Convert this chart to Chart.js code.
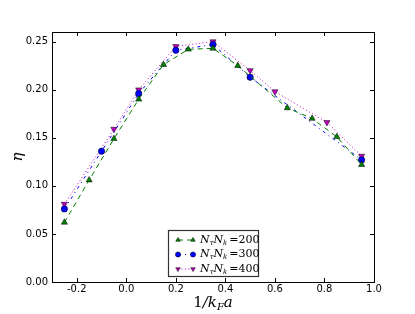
<!DOCTYPE html>
<html>
<head>
<meta charset="utf-8">
<script src="https://cdn.jsdelivr.net/npm/chart.js@4"></script>
<style>
  html, body { margin: 0; padding: 0; background: #fff; }
  #wrap { width: 415px; height: 314px; }
</style>
</head>
<body>
<div id="wrap"><canvas id="c" width="415" height="314"></canvas></div>
<script>
// ── DATA ──────────────────────────────────────────────────────────────
var x200 = [-0.25, -0.15, -0.05, 0.05, 0.15, 0.25, 0.35, 0.45, 0.65, 0.75, 0.85, 0.95];
var y200 = [0.062, 0.106, 0.149, 0.190, 0.226, 0.242, 0.243, 0.225, 0.181, 0.170, 0.151, 0.122];

var x300 = [-0.25, -0.10, 0.05, 0.20, 0.35, 0.50, 0.95];
var y300 = [0.076, 0.136, 0.196, 0.241, 0.247, 0.213, 0.127];

var x400 = [-0.25, -0.05, 0.05, 0.20, 0.35, 0.50, 0.60, 0.81, 0.95];
var y400 = [0.081, 0.159, 0.200, 0.245, 0.250, 0.220, 0.198, 0.166, 0.131];

var seriesLabels = ['200', '300', '400'];
var xTicks = [-0.2, 0.0, 0.2, 0.4, 0.6, 0.8, 1.0];
var yTicks = [0.00, 0.05, 0.10, 0.15, 0.20, 0.25];

function puntos(xs, ys) {
  return xs.map(function(x, i) { return { x: x, y: ys[i] }; });
}

// ── PLUGIN: marco, ticks internos, leyenda y títulos ─────────────────
var decoraciones = {
  id: 'decoraciones',
  afterDraw: function(chart) {
    var ctx = chart.ctx, a = chart.chartArea;
    var sx = chart.scales.x, sy = chart.scales.y;
    ctx.save();

    // ticks hacia dentro en los cuatro lados
    ctx.strokeStyle = '#000';
    ctx.lineWidth = 1;
    ctx.beginPath();
    xTicks.forEach(function(v) {
      var px = Math.round(sx.getPixelForValue(v)) + 0.5;
      ctx.moveTo(px, a.bottom); ctx.lineTo(px, a.bottom - 4);
      ctx.moveTo(px, a.top);    ctx.lineTo(px, a.top + 4);
    });
    yTicks.forEach(function(v) {
      var py = Math.round(sy.getPixelForValue(v)) + 0.5;
      ctx.moveTo(a.left, py);  ctx.lineTo(a.left + 4, py);
      ctx.moveTo(a.right, py); ctx.lineTo(a.right - 4, py);
    });
    ctx.stroke();

    // marco
    ctx.strokeRect(Math.round(a.left) + 0.5, Math.round(a.top) + 0.5,
                   Math.round(a.right - a.left), Math.round(a.bottom - a.top));

    // leyenda
    var lx = 168, ly = 230, lw = 90, lh = 46;
    ctx.fillStyle = '#fff';
    ctx.fillRect(lx, ly, lw, lh);
    ctx.strokeStyle = '#333';
    ctx.lineWidth = 1.2;
    ctx.strokeRect(lx + 0.5, ly + 0.5, lw, lh);

    chart.data.datasets.forEach(function(ds, i) {
      var yy = ly + 10 + i * 14.5;
      var x0 = lx + 10, x1 = lx + 25;
      ctx.strokeStyle = ds.borderColor;
      ctx.lineWidth = 1;
      ctx.setLineDash(ds.borderDash);
      ctx.beginPath(); ctx.moveTo(x0, yy); ctx.lineTo(x1, yy); ctx.stroke();
      ctx.setLineDash([]);
      [x0, x1].forEach(function(px) {
        ctx.fillStyle = ds.pointBackgroundColor;
        ctx.strokeStyle = '#000';
        ctx.lineWidth = 0.5;
        Chart.helpers.drawPoint(ctx, {
          pointStyle: ds.pointStyle, rotation: ds.pointRotation || 0,
          radius: 2.6, borderWidth: 0.5
        }, px, yy);
      });

      // texto N_τ N_k = valor
      var tx = lx + 32;
      ctx.fillStyle = '#000';
      ctx.textBaseline = 'middle';
      ctx.textAlign = 'left';
      ctx.font = 'italic 11px "DejaVu Serif"';
      ctx.fillText('N', tx, yy); tx += ctx.measureText('N').width;
      ctx.font = 'italic 7px "DejaVu Serif"';
      ctx.fillText('τ', tx, yy + 3); tx += ctx.measureText('τ').width;
      ctx.font = 'italic 11px "DejaVu Serif"';
      ctx.fillText('N', tx, yy); tx += ctx.measureText('N').width;
      ctx.font = 'italic 7px "DejaVu Serif"';
      ctx.fillText('k', tx, yy + 3); tx += ctx.measureText('k').width + 2;
      ctx.font = '11px "DejaVu Serif"';
      ctx.fillText('=' + seriesLabels[i], tx, yy);
    });

    // título eje x: 1/k_F a
    ctx.fillStyle = '#000';
    ctx.textBaseline = 'alphabetic';
    ctx.textAlign = 'left';
    var partes = [
      ['15px "DejaVu Serif"', '1', 0],
      ['italic 15px "DejaVu Serif"', '/k', 0],
      ['italic 10px "DejaVu Serif"', 'F', 3],
      ['italic 15px "DejaVu Serif"', 'a', 0]
    ];
    var total = 0;
    partes.forEach(function(p) { ctx.font = p[0]; total += ctx.measureText(p[1]).width; });
    var cx = (a.left + a.right) / 2 - total / 2;
    partes.forEach(function(p) {
      ctx.font = p[0];
      ctx.fillText(p[1], cx, 307 + p[2]);
      cx += ctx.measureText(p[1]).width;
    });

    // título eje y: η
    ctx.translate(22, (a.top + a.bottom) / 2);
    ctx.rotate(-Math.PI / 2);
    ctx.textAlign = 'center';
    ctx.font = 'italic 15px "DejaVu Serif"';
    ctx.fillText('η', 0, 0);

    ctx.restore();
  }
};

// ── CHART ─────────────────────────────────────────────────────────────
new Chart(document.getElementById('c').getContext('2d'), {
  type: 'scatter',
  data: {
    datasets: [
      {
        label: '200', data: puntos(x200, y200), showLine: true,
        borderColor: '#008000', borderWidth: 1, borderDash: [5, 4],
        pointStyle: 'triangle', pointRadius: 3.6,
        pointBackgroundColor: '#008000', pointBorderColor: '#000', pointBorderWidth: 0.5
      },
      {
        label: '300', data: puntos(x300, y300), showLine: true,
        borderColor: '#0000ff', borderWidth: 1, borderDash: [3, 4, 1, 4],
        pointStyle: 'circle', pointRadius: 3.2,
        pointBackgroundColor: '#0000ff', pointBorderColor: '#000', pointBorderWidth: 0.5
      },
      {
        label: '400', data: puntos(x400, y400), showLine: true,
        borderColor: '#bf00bf', borderWidth: 1, borderDash: [1, 2.5],
        pointStyle: 'triangle', pointRotation: 180, pointRadius: 3.6,
        pointBackgroundColor: '#bf00bf', pointBorderColor: '#000', pointBorderWidth: 0.5
      }
    ]
  },
  options: {
    responsive: false,
    animation: false,
    layout: { padding: { top: 32, right: 41, left: 0, bottom: 0 } },
    plugins: { legend: { display: false }, tooltip: { enabled: false } },
    scales: {
      x: {
        type: 'linear', min: -0.3, max: 1.0,
        afterBuildTicks: function(s) { s.ticks = xTicks.map(function(v) { return { value: v }; }); },
        afterFit: function(s) { s.height = 32; },
        grid: { display: false, drawTicks: false },
        border: { display: false },
        ticks: {
          padding: 1, color: '#000', maxRotation: 0,
          font: { family: '"DejaVu Sans"', size: 10 },
          callback: function(v) { return v.toFixed(1); }
        }
      },
      y: {
        type: 'linear', min: 0, max: 0.26,
        afterBuildTicks: function(s) { s.ticks = yTicks.map(function(v) { return { value: v }; }); },
        afterFit: function(s) { s.width = 52; },
        grid: { display: false, drawTicks: false },
        border: { display: false },
        ticks: {
          padding: 4, color: '#000',
          font: { family: '"DejaVu Sans"', size: 10 },
          callback: function(v) { return v.toFixed(2); }
        }
      }
    }
  },
  plugins: [decoraciones]
});
</script>
</body>
</html>
